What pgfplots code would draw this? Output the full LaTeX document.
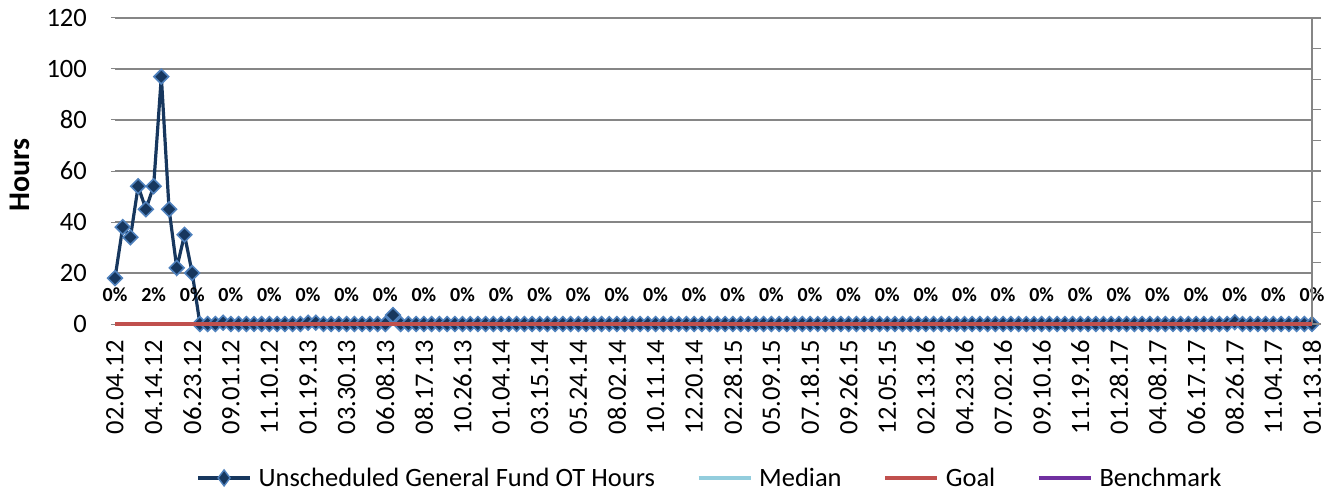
\documentclass[border=0pt]{standalone}
\usepackage{fontspec}
\setmainfont{Carlito}
\usepackage{pgfplots}
\pgfplotsset{compat=1.18}
\usepackage{pgfplotstable}
\definecolor{navy}{HTML}{17375E}
\definecolor{mkedge}{HTML}{4F81BD}
\definecolor{goalred}{HTML}{C0504D}
\definecolor{medblue}{HTML}{93CDDD}
\definecolor{benchpurple}{HTML}{7030A0}
\definecolor{gridgray}{HTML}{868686}

\pgfplotstableread{
x y
0 18
1 38
2 34
3 54
4 45
5 54
6 97
7 45
8 22
9 35
10 20
11 0
12 0
13 0
14 0.5
15 0
16 0
17 0
18 0
19 0
20 0
21 0
22 0
23 0
24 0
25 0.5
26 0.5
27 0
28 0
29 0
30 0
31 0
32 0
33 0
34 0
35 0
36 3.5
37 0
38 0
39 0
40 0
41 0
42 0
43 0
44 0
45 0
46 0
47 0
48 0
49 0
50 0
51 0
52 0
53 0
54 0
55 0
56 0
57 0
58 0
59 0
60 0
61 0
62 0
63 0
64 0
65 0
66 0
67 0
68 0
69 0
70 0
71 0
72 0
73 0
74 0
75 0
76 0
77 0
78 0
79 0
80 0
81 0
82 0
83 0
84 0
85 0
86 0
87 0
88 0
89 0
90 0
91 0
92 0
93 0
94 0
95 0
96 0
97 0
98 0
99 0
100 0
101 0
102 0
103 0
104 0
105 0
106 0
107 0
108 0
109 0
110 0
111 0
112 0
113 0
114 0
115 0
116 0
117 0
118 0
119 0
120 0
121 0
122 0
123 0
124 0
125 0
126 0
127 0
128 0
129 0
130 0
131 0
132 0
133 0
134 0
135 0
136 0
137 0
138 0
139 0
140 0
141 0
142 0
143 0
144 0
145 0.7
146 0
147 0
148 0
149 0
150 0
151 0
152 0
153 0
154 0
155 0
}\hoursdata

\pgfplotstableread{
x y lab
0 11.4 0\%
5 11.4 2\%
10 11.4 0\%
15 11.4 0\%
20 11.4 0\%
25 11.4 0\%
30 11.4 0\%
35 11.4 0\%
40 11.4 0\%
45 11.4 0\%
50 11.4 0\%
55 11.4 0\%
60 11.4 0\%
65 11.4 0\%
70 11.4 0\%
75 11.4 0\%
80 11.4 0\%
85 11.4 0\%
90 11.4 0\%
95 11.4 0\%
100 11.4 0\%
105 11.4 0\%
110 11.4 0\%
115 11.4 0\%
120 11.4 0\%
125 11.4 0\%
130 11.4 0\%
135 11.4 0\%
140 11.4 0\%
145 11.4 0\%
150 11.4 0\%
155 11.4 0\%
}\pctdata

\begin{document}
\begin{tikzpicture}
\useasboundingbox (-115bp,-168bp) rectangle (1214bp,324bp);
\begin{axis}[
  name=main,
  at={(0,0)}, anchor=south west,
  scale only axis,
  width=1197bp, height=306bp,
  xmin=0, xmax=155, ymin=0, ymax=120,
  ytick={0,20,...,120},
  xtick={0,5,...,155},
  xticklabels={02.04.12,04.14.12,06.23.12,09.01.12,11.10.12,01.19.13,03.30.13,06.08.13,08.17.13,10.26.13,01.04.14,03.15.14,05.24.14,08.02.14,10.11.14,12.20.14,02.28.15,05.09.15,07.18.15,09.26.15,12.05.15,02.13.16,04.23.16,07.02.16,09.10.16,11.19.16,01.28.17,04.08.17,06.17.17,08.26.17,11.04.17,01.13.18},
  /pgf/number format/assume math mode=true,
  ticklabel style={font=\fontsize{26.5bp}{30bp}\selectfont},
  xticklabel style={rotate=90, anchor=east, inner sep=0pt},
  xticklabel shift=12bp,
  yticklabel style={anchor=east, inner sep=0pt},
  yticklabel shift=24bp,
  axis line style={draw=none},
  xtick style={draw=none},
  ytick style={draw=gridgray, line width=1bp},
  tick align=outside,
  ytick pos=left,
  major tick length=4bp,
  ymajorgrids,
  grid style={gridgray, line width=1.3bp},
  clip=false,
  ylabel={\bfseries Hours},
  ylabel style={at={(axis description cs:-0.0796,0.487)}, anchor=center, rotate=0, font=\fontsize{30bp}{34bp}\selectfont},
  legend columns=4,
  legend style={at={(axis description cs:0.497,-0.503)}, anchor=center, draw=none,
    font=\fontsize{26.5bp}{30bp}\selectfont,
    /tikz/every even column/.append style={column sep=40bp},
    /tikz/every odd column/.append style={column sep=5bp},
    inner sep=0pt},
  legend image code/.code={
    \draw[#1, mark=none] (0bp,0bp) -- (52bp,0bp);
  },
]
\addplot[navy, line width=3.2bp, mark=square*,
  mark size=5.2bp,
  mark options={rotate=45, fill=navy, draw=mkedge, line width=1.6bp},
  legend image code/.code={
    \draw[navy, line width=3.2bp] (0bp,0bp) -- (52bp,0bp);
    \draw[fill=navy, draw=mkedge, line width=1.4bp] (26bp,-8bp) -- (32bp,0bp) -- (26bp,8bp) -- (20bp,0bp) -- cycle;
  }] table[x=x,y=y] {\hoursdata};
\addlegendentry{Unscheduled General Fund OT Hours}
\addlegendimage{medblue, line width=3.2bp}
\addlegendentry{Median}
\addlegendimage{goalred, line width=3.2bp}
\addlegendentry{Goal}
\addlegendimage{benchpurple, line width=3.2bp}
\addlegendentry{Benchmark}
\addplot[draw=none, mark=none, forget plot,
  nodes near coords, point meta=explicit symbolic,
  nodes near coords style={anchor=center, inner sep=0pt, font=\bfseries\fontsize{20bp}{23bp}\selectfont}]
  table[x=x,y=y,meta=lab] {\pctdata};
\end{axis}
\begin{axis}[
  at={(0,0)}, anchor=south west,
  scale only axis,
  width=1197bp, height=306bp,
  xmin=0, xmax=155, ymin=0, ymax=120,
  ytick={0,12,...,121},
  yticklabels={},
  axis x line=none,
  axis y line*=right,
  axis line style={draw=gridgray, line width=1.3bp, -},
  ytick style={draw=gridgray, line width=1.3bp},
  tick align=outside,
  major tick length=9bp,
  clip=false,
]
\addplot[goalred, line width=3.2bp, mark=none] coordinates {(0,0) (155,0)};
\end{axis}
\end{tikzpicture}
\end{document}
